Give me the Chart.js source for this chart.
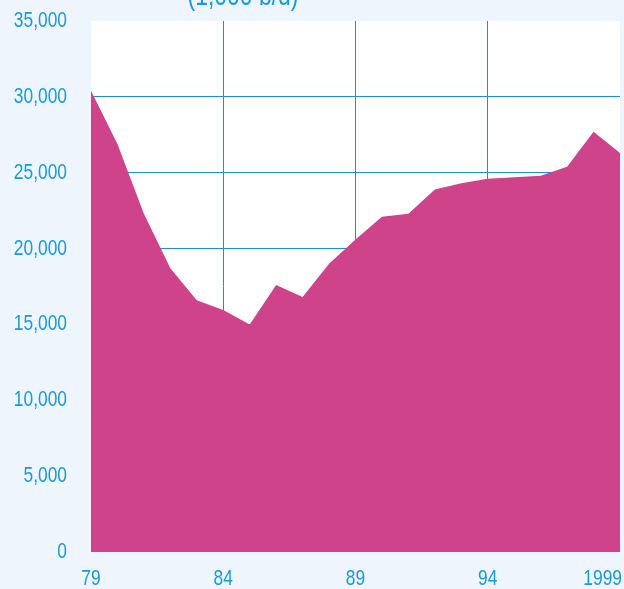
<!DOCTYPE html>
<html>
<head>
<meta charset="utf-8">
<script src="https://cdn.jsdelivr.net/npm/chart.js@4/dist/chart.umd.min.js"></script>
<style>
  html, body { margin: 0; padding: 0; background: #eef5fc; }
  #wrap { width: 624px; height: 589px; }
</style>
</head>
<body>
<div id="wrap"><canvas id="chart" width="624" height="589"></canvas></div>
<script>
const years = [1979, 1980, 1981, 1982, 1983, 1984, 1985, 1986, 1987, 1988, 1989,
  1990, 1991, 1992, 1993, 1994, 1995, 1996, 1997, 1998, 1999];
const production = [30400, 26900, 22300, 18700, 16600, 15950, 15000, 17600, 16800, 19000, 20600,
  22100, 22300, 23900, 24300, 24600, 24700, 24800, 25400, 27700, 26300];
const yearTicks = [1979, 1984, 1989, 1994, 1999];
const yearLabels = ["79", "84", "89", "94", "1999"];
const unitTitle = "(1,000 b/d)";

const blue = "#1a9ad8";
const gridBlue = "#1690de";
const font = "'Liberation Sans', Arial, sans-serif";

// the reference uses a narrow face, so squeeze the regular one horizontally
function narrowText(ctx, text, x, y, align) {
  ctx.save();
  ctx.translate(x, y);
  ctx.scale(0.79, 1);
  ctx.textAlign = align;
  ctx.fillText(text, 0, 0);
  ctx.restore();
}

const decor = {
  id: "decor",
  beforeDraw(chart) {
    const { ctx, chartArea: a } = chart;
    ctx.save();
    ctx.fillStyle = "#ffffff";
    ctx.fillRect(a.left, a.top, a.right - a.left, a.bottom - a.top);
    ctx.restore();
  },
  afterDraw(chart) {
    const { ctx, chartArea: a } = chart;
    const xs = chart.scales.x, ys = chart.scales.y;
    ctx.save();
    ctx.fillStyle = blue;
    ctx.textBaseline = "alphabetic";
    ctx.font = "29px " + font;
    narrowText(ctx, unitTitle, 243, 5, "center");

    ctx.font = "22px " + font;
    ctx.textBaseline = "middle";
    ys.ticks.forEach(t => {
      narrowText(ctx, t.value.toLocaleString("en-US"), a.left - 24, ys.getPixelForValue(t.value), "right");
    });
    yearTicks.forEach((yr, i) => {
      if (i === yearTicks.length - 1) {
        narrowText(ctx, yearLabels[i], a.right + 2, 579, "right");
      } else {
        narrowText(ctx, yearLabels[i], xs.getPixelForValue(yr), 579, "center");
      }
    });
    ctx.restore();
  }
};

new Chart(document.getElementById("chart"), {
  type: "line",
  data: {
    datasets: [{
      data: years.map((y, i) => ({ x: y, y: production[i] })),
      backgroundColor: "#ce438a",
      borderWidth: 0,
      pointRadius: 0,
      fill: "origin",
      tension: 0
    }]
  },
  options: {
    responsive: false,
    animation: false,
    layout: { padding: { top: 21, right: 4, bottom: 37, left: 0 } },
    plugins: { legend: { display: false }, tooltip: { enabled: false } },
    scales: {
      x: {
        type: "linear",
        min: 1979,
        max: 1999,
        z: 1,
        afterBuildTicks: s => { s.ticks = yearTicks.map(v => ({ value: v })); },
        ticks: { display: false },
        border: { display: false },
        grid: {
          drawTicks: false,
          lineWidth: 1,
          color: c => (c.tick && (c.tick.value === 1979 || c.tick.value === 1999)) ? "rgba(0,0,0,0)" : gridBlue
        }
      },
      y: {
        min: 0,
        max: 35000,
        z: 1,
        afterFit: s => { s.width = 91; },
        ticks: { display: false, stepSize: 5000 },
        border: { display: false },
        grid: {
          drawTicks: false,
          lineWidth: 1,
          color: c => (c.tick && (c.tick.value === 0 || c.tick.value === 35000)) ? "rgba(0,0,0,0)" : gridBlue
        }
      }
    }
  },
  plugins: [decor]
});
</script>
</body>
</html>
